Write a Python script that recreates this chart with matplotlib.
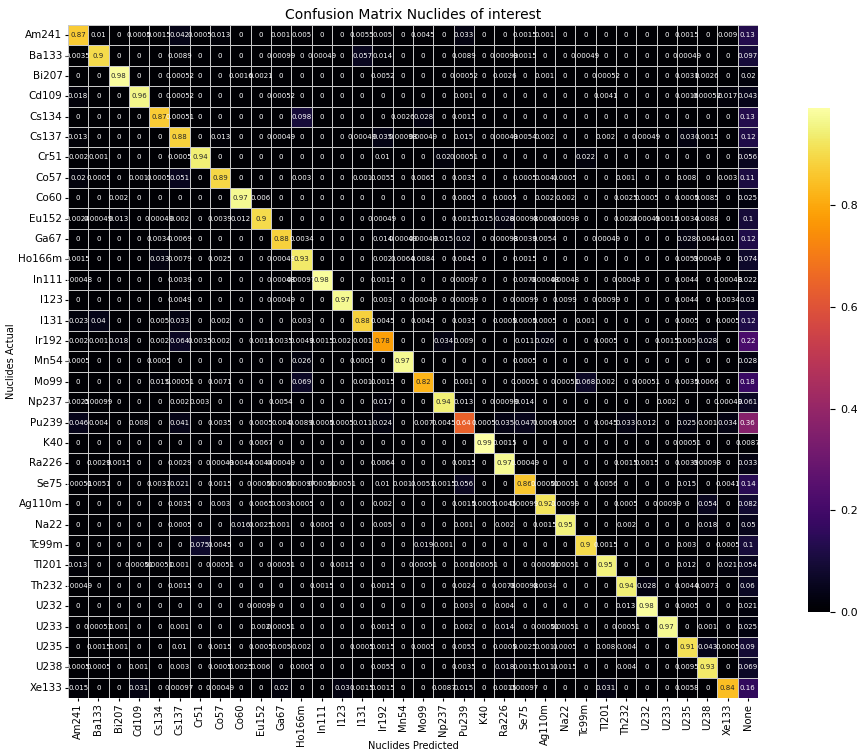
import numpy as np
import matplotlib
matplotlib.use("Agg")
import matplotlib.pyplot as plt
import seaborn as sns

actual = ["Am241", "Ba133", "Bi207", "Cd109", "Cs134", "Cs137", "Cr51", "Co57",
          "Co60", "Eu152", "Ga67", "Ho166m", "In111", "I123", "I131", "Ir192",
          "Mn54", "Mo99", "Np237", "Pu239", "K40", "Ra226", "Se75", "Ag110m",
          "Na22", "Tc99m", "Tl201", "Th232", "U232", "U233", "U235", "U238", "Xe133"]
predicted = actual + ["None"]

# one row per actual nuclide, columns follow `predicted`
rows = [
    [0.87, 0.01, 0, 0.0005, 0.0015, 0.042, 0.0005, 0.013, 0, 0, 0.001, 0.005, 0, 0, 0.0055, 0.005, 0, 0.0045, 0, 0.033, 0, 0, 0.0015, 0.001, 0, 0, 0, 0, 0, 0, 0.0015, 0, 0.009, 0.13],
    [0.0035, 0.9, 0, 0, 0, 0.0089, 0, 0, 0, 0, 0.00099, 0, 0.00049, 0, 0.057, 0.014, 0, 0, 0, 0.0089, 0, 0.00099, 0.0015, 0, 0, 0.00049, 0, 0, 0, 0, 0.00049, 0, 0, 0.097],
    [0, 0, 0.98, 0, 0, 0.00052, 0, 0, 0.0016, 0.0021, 0, 0, 0, 0, 0, 0.0052, 0, 0, 0, 0.00052, 0, 0.0026, 0, 0.001, 0, 0, 0.00052, 0, 0, 0, 0.0031, 0.0026, 0, 0.02],
    [0.018, 0, 0, 0.96, 0, 0.00052, 0, 0, 0, 0, 0.00052, 0, 0, 0, 0, 0, 0, 0, 0, 0.001, 0, 0, 0, 0, 0, 0, 0.0041, 0, 0, 0, 0.0016, 0.00052, 0.017, 0.043],
    [0, 0, 0, 0, 0.87, 0.00051, 0, 0, 0, 0, 0, 0.098, 0, 0, 0, 0, 0.0026, 0.028, 0, 0.0015, 0, 0, 0, 0, 0, 0, 0, 0, 0, 0, 0, 0, 0, 0.13],
    [0.013, 0, 0, 0, 0, 0.88, 0, 0.013, 0, 0, 0.00049, 0, 0, 0, 0.00049, 0.035, 0.00098, 0.00049, 0, 0.015, 0, 0.00049, 0.0054, 0.002, 0, 0, 0.002, 0, 0.00049, 0, 0.03, 0.0015, 0, 0.12],
    [0.002, 0.001, 0, 0, 0, 0.0005, 0.94, 0, 0, 0, 0, 0, 0, 0, 0, 0.01, 0, 0, 0.02, 0.00051, 0, 0, 0, 0, 0, 0.022, 0, 0, 0, 0, 0, 0, 0, 0.056],
    [0.02, 0.0005, 0, 0.001, 0.0005, 0.051, 0, 0.89, 0, 0, 0, 0.003, 0, 0, 0.001, 0.0055, 0, 0.0065, 0, 0.0035, 0, 0, 0.0005, 0.004, 0.0005, 0, 0, 0.001, 0, 0, 0.008, 0, 0.003, 0.11],
    [0, 0, 0.002, 0, 0, 0, 0, 0, 0.97, 0.006, 0, 0, 0, 0, 0, 0, 0, 0, 0, 0.0005, 0, 0.0005, 0, 0.002, 0.002, 0, 0, 0.0025, 0.0005, 0, 0.0005, 0.0085, 0, 0.025],
    [0.0024, 0.00049, 0.013, 0, 0.00049, 0.002, 0, 0.0039, 0.012, 0.9, 0, 0, 0, 0, 0, 0.00049, 0, 0, 0, 0.0015, 0.015, 0.028, 0.00098, 0.0068, 0.00098, 0, 0, 0.0024, 0.00049, 0.0015, 0.0034, 0.0088, 0, 0.1],
    [0, 0, 0, 0, 0.0034, 0.0069, 0, 0, 0, 0, 0.88, 0.0034, 0, 0, 0, 0.014, 0.00049, 0.00049, 0.015, 0.02, 0, 0.00098, 0.0039, 0.0054, 0, 0, 0.00049, 0, 0, 0, 0.028, 0.0044, 0.01, 0.12],
    [0.0015, 0, 0, 0, 0.033, 0.0079, 0, 0.0025, 0, 0, 0.00049, 0.93, 0, 0, 0, 0.002, 0.0064, 0.0084, 0, 0.0045, 0, 0, 0.0015, 0, 0, 0, 0, 0, 0, 0, 0.0059, 0.00049, 0, 0.074],
    [0.00048, 0, 0, 0, 0, 0.0039, 0, 0, 0, 0, 0.00048, 0.00097, 0.98, 0, 0, 0.0015, 0, 0, 0, 0.00097, 0, 0, 0.0078, 0.00048, 0.00048, 0, 0, 0.00048, 0, 0, 0.0044, 0, 0.00048, 0.022],
    [0, 0, 0, 0, 0, 0.0049, 0, 0, 0, 0, 0.00049, 0, 0, 0.97, 0, 0.003, 0, 0.00049, 0, 0.00099, 0, 0, 0.00099, 0, 0.0099, 0, 0.00099, 0, 0, 0, 0.0044, 0, 0.0034, 0.03],
    [0.023, 0.04, 0, 0, 0.005, 0.033, 0, 0.002, 0, 0, 0, 0.003, 0, 0, 0.88, 0.0045, 0, 0.0045, 0, 0.0035, 0, 0.0005, 0.0005, 0.0005, 0, 0.001, 0, 0, 0, 0, 0.0005, 0, 0.0005, 0.12],
    [0.002, 0.001, 0.018, 0, 0.002, 0.064, 0.0035, 0.002, 0, 0.0015, 0.0035, 0.0049, 0.0015, 0.002, 0.001, 0.78, 0, 0, 0.034, 0.009, 0, 0, 0.011, 0.026, 0, 0, 0.0005, 0, 0, 0.0015, 0.005, 0.028, 0, 0.22],
    [0.0005, 0, 0, 0, 0.0005, 0, 0, 0, 0, 0, 0, 0.026, 0, 0, 0.0005, 0, 0.97, 0, 0, 0, 0, 0, 0.0005, 0, 0, 0, 0, 0, 0, 0, 0, 0, 0, 0.028],
    [0, 0, 0, 0, 0.015, 0.00051, 0, 0.0071, 0, 0, 0, 0.069, 0, 0, 0.001, 0.0015, 0, 0.82, 0, 0.001, 0, 0, 0.00051, 0, 0.00051, 0.068, 0.002, 0, 0.00051, 0, 0.0035, 0.0066, 0, 0.18],
    [0.0025, 0.00099, 0, 0, 0, 0.002, 0.003, 0, 0, 0, 0.0054, 0, 0, 0, 0, 0.017, 0, 0, 0.94, 0.013, 0, 0.00099, 0.014, 0, 0, 0, 0, 0, 0, 0.002, 0, 0, 0.00049, 0.061],
    [0.046, 0.004, 0, 0.008, 0, 0.041, 0, 0.0035, 0, 0.0005, 0.004, 0.0089, 0.0005, 0.0005, 0.011, 0.024, 0, 0.007, 0.0045, 0.64, 0.0005, 0.035, 0.047, 0.0009, 0.0005, 0, 0.0045, 0.033, 0.012, 0, 0.025, 0.001, 0.034, 0.36],
    [0, 0, 0, 0, 0, 0, 0, 0, 0, 0.0067, 0, 0, 0, 0, 0, 0, 0, 0, 0, 0, 0.99, 0.0015, 0, 0, 0, 0, 0, 0, 0, 0, 0.00051, 0, 0, 0.0087],
    [0, 0.0029, 0.0015, 0, 0, 0.0029, 0, 0.00049, 0.0044, 0.0044, 0.00049, 0, 0, 0, 0, 0.0064, 0, 0, 0, 0.0015, 0, 0.97, 0.00049, 0, 0, 0, 0, 0.0015, 0.0015, 0, 0.0039, 0.00098, 0, 0.033],
    [0.00051, 0.0051, 0, 0, 0.0031, 0.021, 0, 0.0015, 0, 0.00051, 0.00051, 0.00097, 0.00051, 0.00051, 0, 0.01, 0.001, 0.0051, 0.0015, 0.056, 0, 0, 0.86, 0.00051, 0.00051, 0, 0.0056, 0, 0, 0, 0.015, 0, 0.0041, 0.14],
    [0, 0, 0, 0, 0, 0.0035, 0, 0.003, 0, 0.0065, 0.003, 0.0005, 0, 0, 0, 0.002, 0, 0, 0, 0.0015, 0.0005, 0.0045, 0.00099, 0.92, 0.00099, 0, 0, 0.0005, 0, 0.00099, 0, 0.054, 0, 0.082],
    [0, 0, 0, 0, 0, 0.0005, 0, 0, 0.016, 0.0025, 0.001, 0, 0.0005, 0, 0, 0.005, 0, 0, 0, 0.001, 0, 0.002, 0, 0.0015, 0.95, 0, 0, 0.002, 0, 0, 0, 0.018, 0, 0.05],
    [0, 0, 0, 0, 0, 0, 0.075, 0.0045, 0, 0, 0, 0, 0, 0, 0, 0, 0, 0.019, 0.001, 0, 0, 0, 0, 0, 0, 0.9, 0.0015, 0, 0, 0, 0.003, 0, 0.0005, 0.1],
    [0.013, 0, 0, 0.00051, 0.00051, 0.001, 0, 0.00051, 0, 0, 0.00051, 0, 0, 0.0015, 0, 0, 0, 0.00051, 0, 0.001, 0.00051, 0, 0, 0.00051, 0.00051, 0, 0.95, 0, 0, 0, 0.012, 0, 0.021, 0.054],
    [0.00049, 0, 0, 0, 0, 0.0015, 0, 0, 0, 0, 0, 0, 0.0015, 0, 0, 0.0015, 0, 0, 0, 0.0024, 0, 0.0078, 0.00098, 0.0034, 0, 0, 0, 0.94, 0.028, 0, 0.0044, 0.0073, 0, 0.06],
    [0, 0, 0, 0, 0, 0, 0, 0, 0, 0.00099, 0, 0, 0, 0, 0, 0, 0, 0, 0, 0.003, 0, 0.004, 0, 0, 0, 0, 0, 0.013, 0.98, 0, 0.0005, 0, 0, 0.021],
    [0, 0.00051, 0.001, 0, 0, 0.001, 0, 0, 0, 0.002, 0.00051, 0, 0, 0, 0, 0.0015, 0, 0, 0, 0.002, 0, 0.014, 0, 0.00051, 0.00051, 0, 0, 0.00051, 0, 0.97, 0, 0.001, 0, 0.025],
    [0, 0.0015, 0.001, 0, 0, 0.01, 0, 0.0015, 0, 0.0005, 0.005, 0.002, 0, 0, 0.0005, 0.0015, 0, 0.0005, 0, 0.0055, 0, 0.0005, 0.0025, 0.001, 0.0005, 0, 0.008, 0.004, 0, 0, 0.91, 0.043, 0.0005, 0.09],
    [0.0005, 0.0005, 0, 0.001, 0, 0.003, 0, 0.0005, 0.0025, 0.006, 0, 0.0005, 0, 0, 0, 0.0055, 0, 0, 0, 0.0035, 0, 0.018, 0.0015, 0.011, 0.0015, 0, 0, 0.004, 0, 0, 0.0095, 0.93, 0, 0.069],
    [0.015, 0, 0, 0.031, 0, 0.00097, 0, 0.00049, 0, 0, 0.02, 0, 0, 0.03, 0.0015, 0.0015, 0, 0, 0.0087, 0.015, 0, 0.0015, 0.00097, 0, 0, 0, 0.031, 0, 0, 0, 0.0058, 0, 0.84, 0.16],
]

cm = np.array(rows)

fig = plt.figure(figsize=(8.57, 7.55), dpi=100)
ax = fig.add_axes([0.0793, 0.0755, 0.8052, 0.8915])
cax = fig.add_axes([0.943, 0.189, 0.0257, 0.668])

sns.heatmap(cm, ax=ax, cbar_ax=cax, cmap="inferno", vmin=0,
            annot=True, fmt=".2g", annot_kws={"size": 5},
            linewidths=0.4, linecolor="#c8c8c8",
            xticklabels=predicted, yticklabels=actual,
            cbar_kws={"label": "Prediction Fraction"})

ax.set_title("Confusion Matrix Nuclides of interest", fontsize=10, pad=4)
ax.set_xlabel("Nuclides Predicted", fontsize=7)
ax.xaxis.set_label_coords(0.5, -0.064)
ax.set_ylabel("Nuclides Actual", fontsize=7, labelpad=2)
ax.tick_params(axis="x", labelsize=7.2, rotation=90, length=2, pad=2)
ax.tick_params(axis="y", labelsize=7.5, rotation=0, length=2, pad=2)
cax.tick_params(labelsize=8)
cax.yaxis.label.set_size(7)

fig.savefig("out.png", dpi=100)
